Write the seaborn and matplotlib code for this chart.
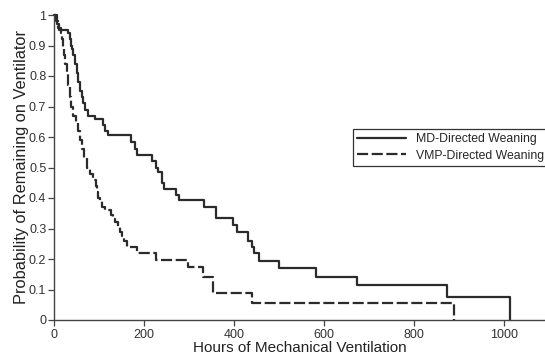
import numpy as np
import pandas as pd
import matplotlib
matplotlib.use('Agg')
import matplotlib.pyplot as plt
import seaborn as sns

# Kaplan-Meier step values
md_hours = [0, 7, 11, 31, 36, 38, 40, 42, 47, 51, 53, 58, 62, 64, 69, 76, 91, 109, 113, 120,
            171, 180, 184, 218, 227, 231, 240, 244, 271, 278, 333, 360, 398, 407, 431, 440,
            444, 456, 500, 582, 673, 873, 1013]
md_surv = [1.0, 0.97, 0.95, 0.94, 0.92, 0.90, 0.89, 0.87, 0.84, 0.81, 0.78, 0.75, 0.73, 0.71,
           0.69, 0.67, 0.66, 0.64, 0.62, 0.605, 0.585, 0.56, 0.54, 0.52, 0.50, 0.485, 0.45,
           0.43, 0.41, 0.393, 0.37, 0.334, 0.31, 0.288, 0.26, 0.24, 0.22, 0.195, 0.17, 0.142,
           0.115, 0.074, 0.0]

vmp_hours = [0, 4, 9, 16, 18, 20, 22, 24, 29, 31, 36, 38, 42, 49, 53, 58, 62, 67, 73, 80, 87,
             93, 96, 98, 102, 107, 113, 127, 131, 136, 142, 147, 151, 156, 162, 184, 227, 298,
             331, 353, 440, 889]
vmp_surv = [1.0, 0.98, 0.957, 0.94, 0.92, 0.89, 0.87, 0.84, 0.81, 0.77, 0.73, 0.70, 0.67, 0.65,
            0.62, 0.59, 0.56, 0.53, 0.50, 0.48, 0.46, 0.44, 0.42, 0.40, 0.39, 0.37, 0.36, 0.345,
            0.33, 0.32, 0.305, 0.29, 0.275, 0.26, 0.24, 0.22, 0.197, 0.174, 0.142, 0.087, 0.057,
            0.0]

labels = ['MD-Directed Weaning', 'VMP-Directed Weaning']
x_ticks = [0, 200, 400, 600, 800, 1000]
y_ticks = np.round(np.arange(0, 1.01, 0.1), 1)
y_ticklabels = ['0', '0.1', '0.2', '0.3', '0.4', '0.5', '0.6', '0.7', '0.8', '0.9', '1']

sns.set_style('ticks')
plt.rcParams['font.family'] = ['Liberation Sans', 'DejaVu Sans']

fig = plt.figure(figsize=(5.45, 3.56), dpi=100)
ax = fig.add_axes([54 / 545, 36 / 356, 491 / 545, 305 / 356])

line_col = '#2b2b2b'
sns.lineplot(x=md_hours, y=md_surv, ax=ax, drawstyle='steps-post', color=line_col,
             linewidth=1.6, label=labels[0], clip_on=False)
sns.lineplot(x=vmp_hours, y=vmp_surv, ax=ax, drawstyle='steps-post', color=line_col,
             linewidth=1.6, dashes=(5, 1.6), label=labels[1], clip_on=False)

ax.set_xlim(0, 1091)
ax.set_ylim(0, 1)
ax.set_xticks(x_ticks)
ax.set_xticklabels([str(t) for t in x_ticks], fontsize=9, color='#333333')
ax.set_yticks(y_ticks)
ax.set_yticklabels(y_ticklabels, fontsize=9, color='#333333')
ax.tick_params(direction='out', length=4, width=0.9, color='#444444', pad=1.5)
ax.tick_params(axis='x', pad=2.5)

sns.despine(ax=ax)
for s in ['left', 'bottom']:
    ax.spines[s].set_color('#444444')
    ax.spines[s].set_linewidth(1.0)

ax.set_xlabel('Hours of Mechanical Ventilation', fontsize=11, color='#222222', labelpad=0)
ax.set_ylabel('Probability of Remaining on Ventilator', fontsize=11.8, color='#222222',
              labelpad=0)

leg = ax.legend(loc='upper left', bbox_to_anchor=(353 / 545, 1 - 129 / 356),
                bbox_transform=fig.transFigure, fontsize=8.8, frameon=True, fancybox=False,
                edgecolor='#333333', framealpha=1, borderaxespad=0, handlelength=4.0,
                handletextpad=0.8, borderpad=0.35, labelspacing=0.35)
leg.get_frame().set_linewidth(0.9)

fig.savefig('out.png', dpi=100)
